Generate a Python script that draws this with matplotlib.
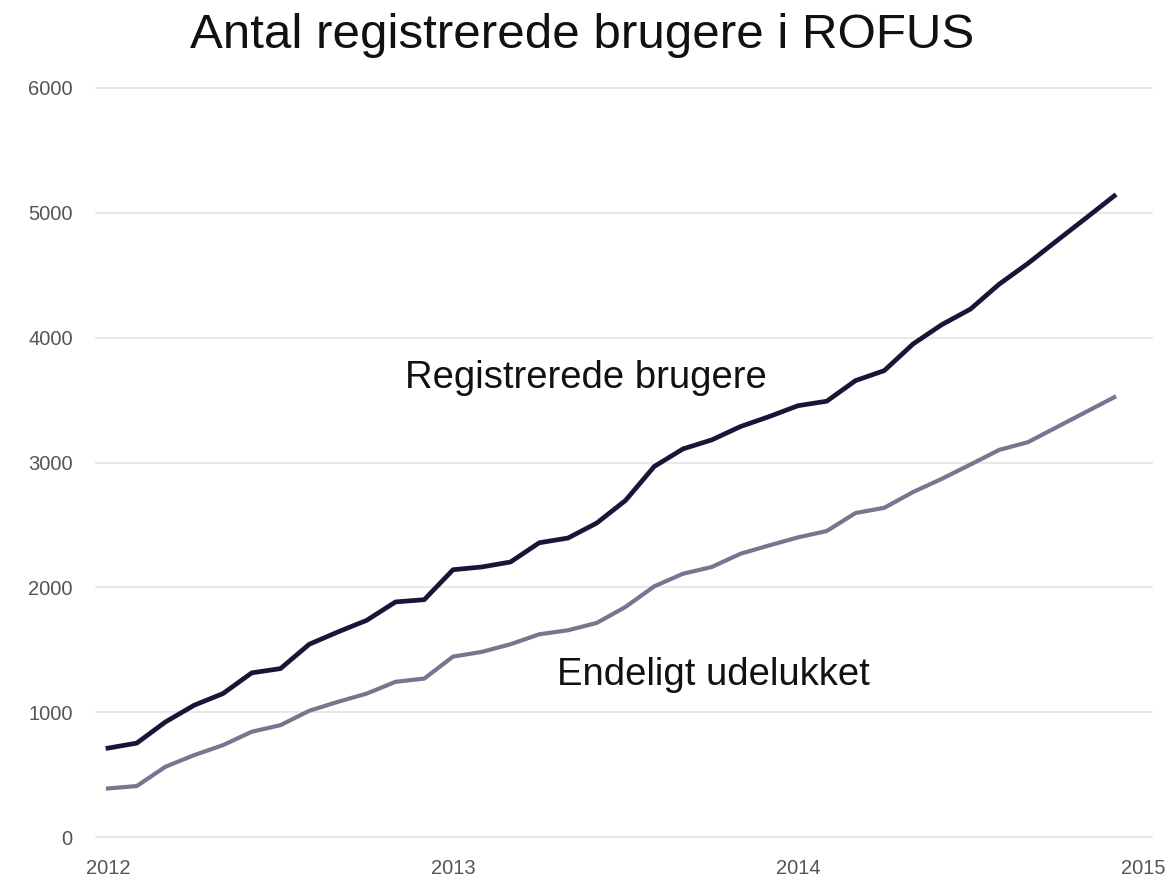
import numpy as np
import matplotlib.pyplot as plt

# monthly values, Jan 2012 .. Dec 2014
registrerede = [712, 752, 922, 1056, 1149, 1315, 1349, 1544, 1643, 1736, 1883, 1901,
                2141, 2163, 2203, 2357, 2395, 2515, 2696, 2968, 3109, 3181, 3288, 3368,
                3455, 3491, 3656, 3736, 3949, 4104, 4229, 4429, 4595, 4776, 4955, 5136]
udelukket = [389, 408, 563, 656, 736, 843, 896, 1011, 1083, 1149, 1243, 1269,
             1445, 1483, 1544, 1624, 1656, 1715, 1843, 2008, 2109, 2163, 2269, 2336,
             2400, 2451, 2595, 2637, 2763, 2869, 2984, 3101, 3163, 3283, 3403, 3523]
aar = [2012, 2013, 2014, 2015]
y_ticks = [0, 1000, 2000, 3000, 4000, 5000, 6000]

plt.rcParams['font.family'] = ['Liberation Sans', 'DejaVu Sans']

x = 2012 + np.arange(len(registrerede)) / 12

fig = plt.figure(figsize=(11.7, 8.8), dpi=100)
ax = fig.add_axes([95 / 1170, 1 - 840.75 / 880, (1153 - 95) / 1170, (840.75 - 84.25) / 880])

ax.plot(x, udelukket, color='#77758f', lw=3.0, solid_joinstyle='round')
ax.plot(x, registrerede, color='#171638', lw=3.4, solid_joinstyle='round')

ax.set_xlim(2012 - 13 / 345, 2015 + 10 / 345)
ax.set_ylim(-30, 6030)
ax.set_xticks(aar)
ax.set_xticklabels([str(a) for a in aar])
ax.set_yticks(y_ticks)
ax.grid(axis='y', color='#e8e8e8', lw=1.4)
ax.set_axisbelow(True)
for s in ax.spines.values():
    s.set_visible(False)
ax.tick_params(length=0, labelsize=14.5, colors='#555555')
ax.tick_params(axis='y', pad=16)
ax.tick_params(axis='x', pad=13)

# linjeetiketter
ax.text(2012.861, 3600, 'Registrerede brugere', fontsize=27.5, va='baseline', ha='left', color='#111111')
ax.text(2013.301, 1216, 'Endeligt udelukket', fontsize=27.5, va='baseline', ha='left', color='#111111')

fig.text(582 / 1170, 1 - 48 / 880, 'Antal registrerede brugere i ROFUS', fontsize=35.5,
         ha='center', va='baseline', color='#111111')

fig.savefig('out.png', dpi=100, facecolor='white')
